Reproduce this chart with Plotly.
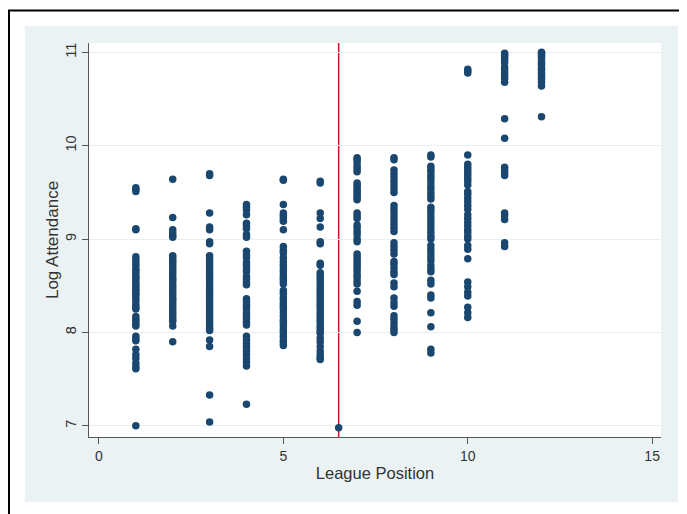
import plotly.graph_objects as go

# League position columns and Log Attendance values
pos1 = [9.55, 9.53, 9.51, 9.11, 9.10, 8.81, 8.78, 8.75, 8.72, 8.68, 8.66, 8.63, 8.60, 8.58, 8.55,
        8.52, 8.50, 8.47, 8.45, 8.42, 8.40, 8.37, 8.34, 8.30, 8.27, 8.25, 8.17, 8.14, 8.12, 8.09,
        8.07, 7.96, 7.93, 7.91, 7.82, 7.76, 7.72, 7.67, 7.63, 7.61, 7.00]
pos2 = [9.64, 9.23, 9.10, 9.07, 9.04, 9.02, 8.82, 8.80, 8.77, 8.75, 8.72, 8.69, 8.66, 8.63, 8.60,
        8.57, 8.55, 8.52, 8.49, 8.46, 8.43, 8.40, 8.37, 8.35, 8.32, 8.29, 8.26, 8.23, 8.20, 8.17,
        8.14, 8.12, 8.07, 7.90]
pos3 = [9.70, 9.68, 9.28, 9.13, 9.10, 8.97, 8.95, 8.82, 8.79, 8.76, 8.73, 8.70, 8.67, 8.64, 8.61,
        8.58, 8.55, 8.52, 8.49, 8.46, 8.43, 8.40, 8.37, 8.34, 8.31, 8.28, 8.25, 8.22, 8.19, 8.16,
        8.13, 8.10, 8.07, 8.04, 8.02, 7.92, 7.85, 7.33, 7.04]
pos4 = [9.37, 9.34, 9.31, 9.26, 9.17, 9.14, 9.11, 9.05, 9.02, 8.87, 8.83, 8.80, 8.75, 8.72, 8.68,
        8.65, 8.60, 8.57, 8.54, 8.51, 8.36, 8.33, 8.30, 8.27, 8.24, 8.20, 8.17, 8.14, 8.11, 8.08,
        7.96, 7.92, 7.88, 7.84, 7.80, 7.76, 7.72, 7.68, 7.64, 7.23]
pos5 = [9.64, 9.63, 9.37, 9.28, 9.25, 9.22, 9.19, 9.10, 8.92, 8.88, 8.85, 8.80, 8.76, 8.72, 8.68,
        8.65, 8.61, 8.58, 8.55, 8.52, 8.45, 8.42, 8.38, 8.35, 8.31, 8.28, 8.25, 8.21, 8.17, 8.13,
        8.10, 8.07, 8.03, 8.00, 7.96, 7.92, 7.89, 7.86]
pos6 = [9.62, 9.60, 9.28, 9.22, 9.13, 8.97, 8.95, 8.74, 8.72, 8.64, 8.61, 8.58, 8.55, 8.52, 8.49,
        8.46, 8.43, 8.40, 8.37, 8.34, 8.31, 8.28, 8.25, 8.22, 8.19, 8.16, 8.13, 8.10, 8.07, 8.04,
        8.01, 7.99, 7.94, 7.90, 7.85, 7.80, 7.76, 7.73, 7.71]
pos7 = [9.87, 9.85, 9.82, 9.78, 9.75, 9.72, 9.60, 9.58, 9.55, 9.52, 9.50, 9.47, 9.44, 9.42, 9.28,
        9.25, 9.22, 9.15, 9.12, 9.08, 9.05, 9.00, 8.97, 8.84, 8.81, 8.78, 8.75, 8.72, 8.69, 8.66,
        8.62, 8.59, 8.55, 8.52, 8.44, 8.33, 8.29, 8.12, 8.00]
pos8 = [9.87, 9.85, 9.74, 9.70, 9.66, 9.62, 9.58, 9.54, 9.50, 9.36, 9.32, 9.28, 9.24, 9.20, 9.16,
        9.12, 9.08, 8.96, 8.92, 8.88, 8.84, 8.76, 8.73, 8.69, 8.65, 8.62, 8.53, 8.49, 8.37, 8.32,
        8.28, 8.18, 8.14, 8.10, 8.06, 8.03, 8.00]
pos9 = [9.90, 9.88, 9.78, 9.75, 9.72, 9.68, 9.65, 9.61, 9.57, 9.54, 9.50, 9.46, 9.43, 9.34, 9.31,
        9.27, 9.23, 9.19, 9.15, 9.11, 9.07, 9.03, 9.00, 8.93, 8.89, 8.85, 8.81, 8.77, 8.72, 8.68,
        8.65, 8.56, 8.52, 8.40, 8.37, 8.21, 8.06, 7.82, 7.78]
pos10 = [10.82, 10.80, 10.78, 9.90, 9.80, 9.77, 9.74, 9.71, 9.68, 9.65, 9.62, 9.58, 9.51, 9.48, 9.44,
         9.40, 9.36, 9.32, 9.26, 9.22, 9.18, 9.14, 9.10, 9.07, 9.03, 9.00, 8.93, 8.89, 8.79, 8.54,
         8.49, 8.43, 8.39, 8.27, 8.21, 8.16]
pos11 = [10.99, 10.97, 10.95, 10.92, 10.89, 10.84, 10.81, 10.78, 10.75, 10.72, 10.68, 10.29, 10.08,
         9.77, 9.74, 9.71, 9.68, 9.28, 9.25, 9.21, 8.96, 8.92]
pos12 = [11.00, 10.99, 10.97, 10.95, 10.93, 10.90, 10.88, 10.86, 10.83, 10.81, 10.78, 10.76, 10.73,
         10.71, 10.68, 10.64, 10.31]
extra_x = [6.5]
extra_y = [6.98]

columns = [pos1, pos2, pos3, pos4, pos5, pos6, pos7, pos8, pos9, pos10, pos11, pos12]
xs, ys = [], []
for i, col in enumerate(columns, start=1):
    xs += [i] * len(col)
    ys += col
xs += extra_x
ys += extra_y

cutoff = 6.5
x_ticks = [0, 5, 10, 15]
y_ticks = [7, 8, 9, 10, 11]

# The page body adds an 8px margin, so figure coordinates are screen minus 8.
OFF = 8
W, H = 687 - OFF, 514 - OFF
L, R, T, B = 89 - OFF, 26, 43 - OFF, 77
pw, ph = W - L - R, H - T - B

def px_x(p):
    return (p - OFF - L) / pw

def px_y(p):
    return (H - B - (p - OFF)) / ph

fig = go.Figure()
fig.add_trace(go.Scatter(
    x=xs, y=ys, mode="markers",
    marker=dict(color="#1a476f", size=7.5, line=dict(width=0)),
    showlegend=False, hoverinfo="x+y",
))

shapes = [
    dict(type="rect", xref="paper", yref="paper", layer="below",
         x0=px_x(25), x1=px_x(678), y0=px_y(502), y1=px_y(26),
         fillcolor="#eaf2f3", line=dict(width=0)),
    dict(type="rect", xref="paper", yref="paper", layer="below",
         x0=0, x1=1, y0=0, y1=1, fillcolor="white", line=dict(width=0)),
    dict(type="line", xref="paper", yref="paper", layer="above",
         x0=px_x(7), x1=px_x(700), y0=px_y(10.5), y1=px_y(10.5),
         line=dict(color="black", width=2)),
    dict(type="line", xref="paper", yref="paper", layer="above",
         x0=px_x(9), x1=px_x(9), y0=px_y(10), y1=px_y(520),
         line=dict(color="black", width=2)),
    dict(type="line", xref="x", yref="paper", layer="between",
         x0=cutoff, x1=cutoff, y0=0, y1=1,
         line=dict(color="#c8102e", width=1.5)),
]

font_family = "Liberation Sans, Arial, sans-serif"
fig.update_layout(
    width=W, height=H,
    margin=dict(l=L, r=R, t=T, b=B, pad=0),
    paper_bgcolor="white", plot_bgcolor="white",
    shapes=shapes,
    font=dict(family=font_family, color="#333333", size=14),
    xaxis=dict(
        range=[-0.27, 15.24], tickvals=x_ticks, ticktext=[str(v) for v in x_ticks],
        showgrid=False, zeroline=False, showline=True, linecolor="#555555", linewidth=1,
        ticks="outside", ticklen=6, tickcolor="#555555", tickfont=dict(size=14),
        title=dict(text="League Position", font=dict(size=16.5), standoff=4),
    ),
    yaxis=dict(
        range=[6.88, 11.10], tickvals=y_ticks, ticktext=[str(v) for v in y_ticks],
        tickangle=-90,
        showgrid=True, gridcolor="#e6eff1", gridwidth=1,
        zeroline=False, showline=True, linecolor="#555555", linewidth=1,
        ticks="outside", ticklen=6, tickcolor="#555555", tickfont=dict(size=14.5),
        title=dict(text="Log Attendance", font=dict(size=17), standoff=0),
    ),
)

fig.write_html("out.html")
